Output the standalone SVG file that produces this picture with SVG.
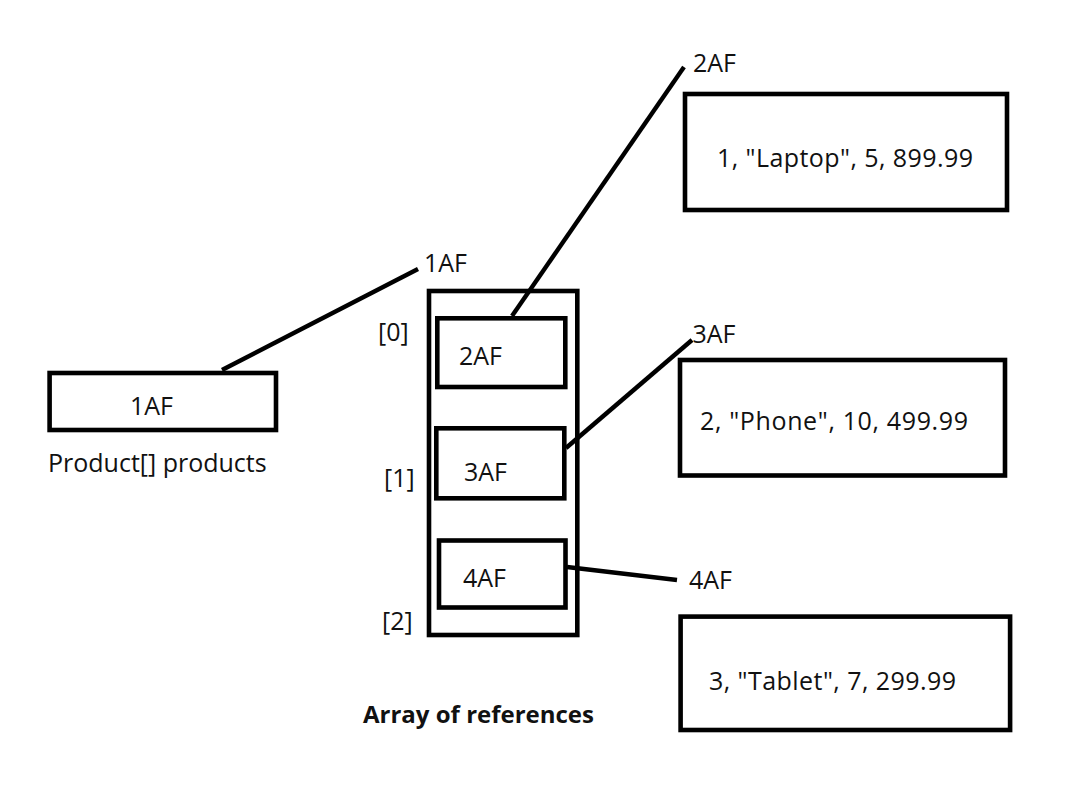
<svg xmlns="http://www.w3.org/2000/svg" width="1071" height="787" viewBox="0 0 1071 787">
<style>
.box{fill:none;stroke:#000;stroke-width:4.6}
.ln{fill:none;stroke:#000;stroke-width:4.4;stroke-linecap:butt}
text{font-family:"Open Sans","Noto Sans","Liberation Sans",sans-serif;font-size:25px;fill:#111}
.b{font-weight:bold;font-size:24px}
</style>
<rect x="0" y="0" width="1071" height="787" fill="#fff"/>
<g id="connectors">
<line class="ln" x1="222" y1="370" x2="418" y2="269"/>
<line class="ln" x1="512" y1="316" x2="684" y2="67"/>
<line class="ln" x1="566" y1="448" x2="692" y2="340"/>
<line class="ln" x1="567" y1="567" x2="677" y2="580"/>
</g>
<g id="products-var">
<rect class="box" x="49.6" y="373" width="226.4" height="57"/>
<text x="130" y="415">1AF</text>
<text x="48" y="472">Product[] products</text>
<text x="424" y="272">1AF</text>
</g>
<g id="array">
<rect class="box" x="429" y="291" width="148.3" height="344"/>
<text class="b" x="363" y="723">Array of references</text>
</g>
<g id="slot0">
<rect class="box" x="437.3" y="318.3" width="128" height="68.7"/>
<text x="459" y="365">2AF</text>
<text x="378" y="341">[0]</text>
</g>
<g id="slot1">
<rect class="box" x="436.3" y="428.3" width="128" height="70"/>
<text x="464" y="480.5">3AF</text>
<text x="384" y="487">[1]</text>
</g>
<g id="slot2">
<rect class="box" x="439" y="540.5" width="126.5" height="67"/>
<text x="463" y="587">4AF</text>
<text x="382" y="630">[2]</text>
</g>
<g id="laptop">
<text x="693" y="71.5">2AF</text>
<rect class="box" x="685" y="94" width="322" height="116"/>
<text x="717" y="166.5" textLength="256">1, "Laptop", 5, 899.99</text>
</g>
<g id="phone">
<text x="692.5" y="342.5">3AF</text>
<rect class="box" x="680" y="360" width="325" height="115.5"/>
<text x="700" y="430" textLength="268">2, "Phone", 10, 499.99</text>
</g>
<g id="tablet">
<text x="689" y="589">4AF</text>
<rect class="box" x="680.6" y="616.6" width="329.5" height="113.4"/>
<text x="709" y="690" textLength="247">3, "Tablet", 7, 299.99</text>
</g>
</svg>
